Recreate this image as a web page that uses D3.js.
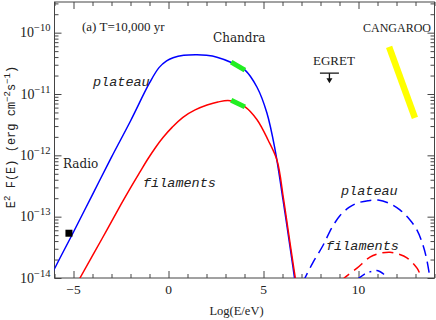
<!DOCTYPE html>
<html>
<head>
<meta charset="utf-8">
<script src="https://cdn.jsdelivr.net/npm/d3@7"></script>
<style>
  body { margin: 0; background: #fff; }
  text { fill: #222; }
</style>
</head>
<body>
<div id="chart"></div>
<script>
// spectra as [log(E/eV), log(E^2 F)]
var plateauSync = [[-6.2,-13.99],[-6.03,-13.87],[-5,-13.25],[-4,-12.64],[-3,-12.03],[-2,-11.44],[-1,-10.82],
  [-0.5,-10.57],[-0.1,-10.46],[0.24,-10.41],[0.8,-10.37],[1.5,-10.36],[2.0,-10.37],[2.55,-10.40],[3.34,-10.49],
  [4.03,-10.61],[4.66,-10.89],[5.18,-11.31],[5.61,-11.91],[6.03,-12.73],[6.29,-13.27],[6.55,-13.82],[6.7,-14.15]];
var filamentSync = [[-4.9,-14.13],[-4.66,-14.0],[-3.5,-13.36],[-2.5,-12.8],[-2,-12.53],[-1.5,-12.27],[-1.13,-12.08],
  [-0.7,-11.88],[-0.29,-11.71],[0.2,-11.54],[0.76,-11.38],[1.4,-11.26],[2.03,-11.18],[2.6,-11.13],[3.24,-11.11],
  [4.03,-11.21],[4.66,-11.42],[5.24,-11.75],[5.71,-12.08],[6.05,-12.70],[6.32,-13.27],[6.6,-13.85],[6.75,-14.15]];
var plateauIC = [[7.05,-14.08],[7.18,-14.0],[7.6,-13.75],[8.13,-13.47],[8.6,-13.18],[9.03,-12.98],[9.5,-12.85],
  [9.92,-12.78],[10.5,-12.74],[11.03,-12.73],[11.6,-12.78],[12.18,-12.89],[12.7,-13.05],[13.08,-13.22],[13.4,-13.47],
  [13.6,-13.71],[13.8,-14.08]];
var filamentIC = [[9.1,-14.06],[9.25,-14.0],[9.92,-13.84],[10.6,-13.66],[11.1,-13.6],[11.66,-13.58],[12.1,-13.61],
  [12.55,-13.67],[13.08,-13.84],[13.4,-14.06]];
var plateauPion = [[9.95,-14.02],[10.3,-13.94],[10.6,-13.9],[11.03,-13.88],[11.3,-13.93],[11.55,-14.02]];

var chandraPlateau = [[3.3,-10.48],[4.02,-10.61]];
var chandraFilament = [[3.3,-11.10],[4.02,-11.21]];
var cangaroo = [[11.61,-10.23],[12.97,-11.39]];
var egretLimit = [[7.97,8.97],[-10.66]];
var radioPoint = [[-5.24,-13.27]];

var xMajor = [-5, 0, 5, 10];
var yDecades = [-14, -13, -12, -11, -10];
var yTickLabels = ["\u221214", "\u221213", "\u221212", "\u221211", "\u221210"];

var svgWidth = 436, svgHeight = 320;
var margin = {top: 2, right: 1.5, bottom: 42, left: 54.5};
var width = svgWidth - margin.left - margin.right;
var height = svgHeight - margin.top - margin.bottom;

var svg = d3.select("#chart").append("svg")
  .attr("width", svgWidth).attr("height", svgHeight);
var g = svg.append("g").attr("transform", `translate(${margin.left}, ${margin.top})`);

var x = d3.scaleLinear().domain([-6, 14]).range([0, width]);
var y = d3.scaleLog().domain([1e-14, Math.pow(10, -9.5)]).range([height, 0]);
var ly = d => y(Math.pow(10, d));

g.append("clipPath").attr("id", "clip")
  .append("rect").attr("width", width).attr("height", height);

// ticks, all pointing inward
var xMinor = d3.range(-6, 15).filter(v => xMajor.indexOf(v) < 0);
var yMinor = [];
yDecades.forEach(function(k) {
  d3.range(2, 10).forEach(function(m) { if (k + Math.log10(m) < -9.5) yMinor.push(m * Math.pow(10, k)); });
});
var yMajorVals = yDecades.map(k => Math.pow(10, k));

function axisG(axis, tx, ty) {
  var a = g.append("g").attr("transform", `translate(${tx},${ty})`).call(axis);
  a.select(".domain").remove();
  a.selectAll("text").remove();
  a.selectAll("line").attr("stroke", "#444");
  return a;
}
axisG(d3.axisBottom(x).tickValues(xMajor).tickSize(-7), 0, height);
axisG(d3.axisBottom(x).tickValues(xMinor).tickSize(-4), 0, height);
axisG(d3.axisTop(x).tickValues(xMajor).tickSize(-7), 0, 0);
axisG(d3.axisTop(x).tickValues(xMinor).tickSize(-4), 0, 0);
axisG(d3.axisLeft(y).tickValues(yMajorVals).tickSize(-7), 0, 0);
axisG(d3.axisLeft(y).tickValues(yMinor).tickSize(-4), 0, 0);
axisG(d3.axisRight(y).tickValues(yMajorVals).tickSize(-7), width, 0);
axisG(d3.axisRight(y).tickValues(yMinor).tickSize(-4), width, 0);

g.append("rect").attr("width", width).attr("height", height)
  .attr("fill", "none").attr("stroke", "#444").attr("stroke-width", 1);

// tick labels
g.append("g").selectAll("text").data(xMajor).enter().append("text")
  .attr("x", d => x(d)).attr("y", height + 16)
  .attr("text-anchor", "middle")
  .style("font", "13.5px 'Liberation Serif'")
  .text(d => d < 0 ? "\u2212" + Math.abs(d) : d);

var yl = g.append("g").selectAll("text").data(yDecades).enter().append("text")
  .attr("x", -4).attr("y", d => ly(d) + 4.5)
  .attr("text-anchor", "end")
  .style("font", "14px 'Liberation Serif'");
yl.append("tspan").text("10");
yl.append("tspan").attr("dy", -6).style("font-size", "10.5px").text((d, i) => yTickLabels[i]);

// axis titles
g.append("text")
  .attr("x", 182).attr("y", height + 37)
  .attr("text-anchor", "middle")
  .style("font", "12.5px 'Liberation Serif'")
  .text("Log(E/eV)");

var yt = svg.append("text")
  .attr("transform", "translate(15, 137) rotate(-90)")
  .attr("text-anchor", "middle")
  .style("font", "12px 'Liberation Mono'");
yt.append("tspan").text("E");
yt.append("tspan").attr("dy", -5).style("font-size", "9px").text("2");
yt.append("tspan").attr("dy", 5).text(" F(E) (erg cm");
yt.append("tspan").attr("dy", -5).style("font-size", "9px").text("\u22122");
yt.append("tspan").attr("dy", 5).text("s");
yt.append("tspan").attr("dy", -5).style("font-size", "9px").text("\u22121");
yt.append("tspan").attr("dy", 5).text(")");

// curves
var line = d3.line().x(d => x(d[0])).y(d => ly(d[1])).curve(d3.curveCatmullRom.alpha(0.5));
var plot = g.append("g").attr("clip-path", "url(#clip)");

var curves = [
  {data: plateauSync, color: "#0000ff", dash: null},
  {data: filamentSync, color: "#ff0000", dash: null},
  {data: plateauIC, color: "#0000ff", dash: "11,6"},
  {data: filamentIC, color: "#ff0000", dash: "11,6"},
  {data: plateauPion, color: "#0000ff", dash: "9,5,2,5"}
];
plot.selectAll("path.curve").data(curves).enter().append("path")
  .attr("class", "curve")
  .attr("d", d => line(d.data))
  .attr("fill", "none")
  .attr("stroke", d => d.color)
  .attr("stroke-width", 1.5)
  .attr("stroke-dasharray", d => d.dash);

var seg = d3.line().x(d => x(d[0])).y(d => ly(d[1]));
[chandraPlateau, chandraFilament].forEach(function(s) {
  plot.append("path").attr("d", seg(s))
    .attr("stroke", "#22ee22").attr("stroke-width", 5).attr("fill", "none");
});
plot.append("path").attr("d", seg(cangaroo))
  .attr("stroke", "#ffff00").attr("stroke-width", 6.5).attr("fill", "none");

// EGRET upper limit
var eg = plot.append("g");
var egMid = (egretLimit[0][0] + egretLimit[0][1]) / 2;
eg.append("line")
  .attr("x1", x(egretLimit[0][0])).attr("x2", x(egretLimit[0][1]))
  .attr("y1", ly(egretLimit[1][0])).attr("y2", ly(egretLimit[1][0]))
  .attr("stroke", "#111").attr("stroke-width", 1.3);
eg.append("line")
  .attr("x1", x(egMid)).attr("x2", x(egMid))
  .attr("y1", ly(egretLimit[1][0])).attr("y2", ly(egretLimit[1][0]) + 8)
  .attr("stroke", "#111").attr("stroke-width", 1.3);
eg.append("path")
  .attr("d", `M${x(egMid) - 3},${ly(egretLimit[1][0]) + 5}L${x(egMid) + 3},${ly(egretLimit[1][0]) + 5}L${x(egMid)},${ly(egretLimit[1][0]) + 10}Z`)
  .attr("fill", "#111");

// radio point
plot.selectAll("rect.radio").data(radioPoint).enter().append("rect")
  .attr("class", "radio")
  .attr("x", d => x(d[0]) - 3.5).attr("y", d => ly(d[1]) - 3.5)
  .attr("width", 7).attr("height", 7).attr("fill", "#000");

// annotations (page coordinates)
function label(txt, px, py, font) {
  svg.append("text").attr("x", px).attr("y", py).style("font", font).text(txt);
}
label("(a) T=10,000 yr", 82, 31, "13px 'Liberation Serif'");
label("Chandra", 213, 42, "12px 'DejaVu Serif'");
label("EGRET", 313, 65, "13px 'Liberation Serif'");
label("CANGAROO", 363, 32, "12px 'Liberation Serif'");
label("Radio", 63, 168, "12px 'DejaVu Serif'");
label("plateau", 93, 86, "italic 13.5px 'Liberation Mono'");
label("filaments", 143, 187, "italic 13.5px 'Liberation Mono'");
label("plateau", 341, 195, "italic 13.5px 'Liberation Mono'");
label("filaments", 326, 250, "italic 13.5px 'Liberation Mono'");
</script>
</body>
</html>
